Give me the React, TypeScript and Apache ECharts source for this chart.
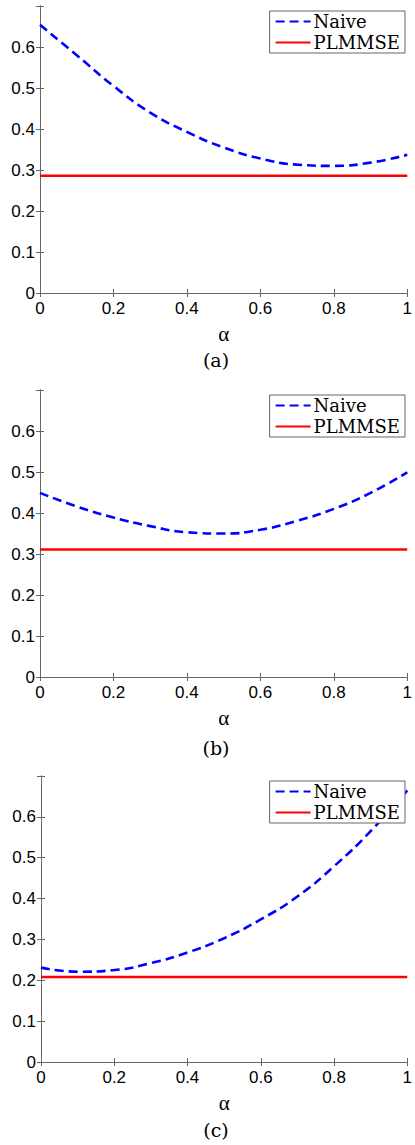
import React, { useEffect, useRef } from "react";
import * as echarts from "echarts";

const alphaValues = [0, 0.1, 0.2, 0.3, 0.4, 0.5, 0.6, 0.7, 0.8, 0.9, 1.0];
const naiveA = [0.654, 0.58, 0.505, 0.44, 0.393, 0.355, 0.328, 0.313, 0.31, 0.318, 0.337];
const naiveB = [0.449, 0.416, 0.389, 0.368, 0.353, 0.35, 0.359, 0.381, 0.41, 0.449, 0.499];
const naiveC = [0.231, 0.221, 0.225, 0.242, 0.268, 0.303, 0.349, 0.405, 0.479, 0.565, 0.665];
const plmmseLevels = [0.286, 0.311, 0.208];
const xTicks = [0, 0.2, 0.4, 0.6, 0.8, 1];
const yTicks = [0, 0.1, 0.2, 0.3, 0.4, 0.5, 0.6];
const panelCaptions = ["(a)", "(b)", "(c)"];
const seriesNames = ["Naive", "PLMMSE"];

const naiveSets = [naiveA, naiveB, naiveC];
const gridTops = [6, 390, 776];
const gridHeights = [287, 287, 286];
const gridLefts = [40, 40, 41];
const captionY = [360, 748, 1130];

const AXIS_COLOR = "#666666";
const SERIF = "'DejaVu Serif', serif";
const TIMES = "'Liberation Serif', serif";
const SANS = "'Liberation Sans', Arial, sans-serif";

export default function App() {
  const ref = useRef<HTMLDivElement>(null);
  useEffect(() => {
    if (!ref.current) return;
    const chart = echarts.init(ref.current, null, { renderer: "svg" });
    const grids: any[] = [];
    const xAxes: any[] = [];
    const yAxes: any[] = [];
    const series: any[] = [];
    const legends: any[] = [];
    const graphics: any[] = [];
    for (let i = 0; i < 3; i++) {
      grids.push({
        left: gridLefts[i],
        top: gridTops[i],
        width: 409 - gridLefts[i],
        height: gridHeights[i],
      });
      const baseX = {
        type: "value",
        gridIndex: i,
        min: xTicks[0],
        max: xTicks[xTicks.length - 1],
        interval: 0.2,
        splitLine: { show: false },
        axisLine: { lineStyle: { color: AXIS_COLOR, width: 1 } },
        axisTick: { inside: true, length: 4, lineStyle: { color: AXIS_COLOR } },
      };
      xAxes.push({
        ...baseX,
        position: "bottom",
        name: "α",
        nameLocation: "middle",
        nameGap: 30,
        nameTextStyle: { fontFamily: TIMES, fontSize: 21, color: "#000", verticalAlign: "top" },
        axisLabel: {
          fontFamily: SANS,
          fontSize: 17,
          color: "#000",
          margin: 7,
          formatter: (v: number) => String(Math.round(v * 10) / 10),
        },
      });
      xAxes.push({ ...baseX, position: "top", axisLabel: { show: false } });
      const baseY = {
        type: "value",
        gridIndex: i,
        min: 0,
        max: 0.7,
        interval: 0.1,
        splitLine: { show: false },
        axisLine: { show: true, lineStyle: { color: AXIS_COLOR, width: 1 } },
        axisTick: { show: true, inside: true, length: 4, lineStyle: { color: AXIS_COLOR } },
      };
      yAxes.push({
        ...baseY,
        position: "left",
        axisLabel: {
          fontFamily: SANS,
          fontSize: 17,
          color: "#000",
          margin: 5,
          formatter: (v: number) => {
            const r = Math.round(v * 10) / 10;
            return yTicks.indexOf(r) >= 0 ? String(r) : "";
          },
        },
      });
      yAxes.push({ ...baseY, position: "right", axisLabel: { show: false } });
      series.push({
        name: seriesNames[0],
        type: "line",
        xAxisIndex: i * 2,
        yAxisIndex: i * 2,
        smooth: true,
        symbol: "none",
        lineStyle: { color: "#0000ff", width: 2.6, type: [9, 5] },
        itemStyle: { color: "#0000ff" },
        data: alphaValues.map((a, k) => [a, naiveSets[i][k]]),
      });
      series.push({
        name: seriesNames[1],
        type: "line",
        xAxisIndex: i * 2,
        yAxisIndex: i * 2,
        symbol: "none",
        lineStyle: { color: "#ff0000", width: 2.4, type: "solid" },
        itemStyle: { color: "#ff0000" },
        data: [alphaValues[0], alphaValues[alphaValues.length - 1]].map((a) => [a, plmmseLevels[i]]),
      });
      legends.push({
        data: seriesNames,
        orient: "vertical",
        right: 10,
        top: gridTops[i] + 5,
        itemWidth: 35,
        itemHeight: 12,
        itemGap: 0,
        padding: [0, 5, 0, 5],
        backgroundColor: "#fff",
        borderColor: AXIS_COLOR,
        borderWidth: 1,
        borderRadius: 0,
        itemStyle: { opacity: 0 },
        textStyle: { fontFamily: SERIF, fontSize: 18, lineHeight: 21, color: "#000", padding: [0, 0, 0, -2] },
      });
      graphics.push({
        type: "text",
        x: 216,
        y: captionY[i],
        style: {
          text: panelCaptions[i],
          font: "19px 'DejaVu Serif'",
          fill: "#000",
          textAlign: "center",
          textVerticalAlign: "middle",
        },
      });
    }
    chart.setOption({
      animation: false,
      grid: grids,
      xAxis: xAxes,
      yAxis: yAxes,
      series,
      legend: legends,
      graphic: graphics,
    });
    return () => chart.dispose();
  }, []);
  return (
    <div
      ref={ref}
      style={{ position: "absolute", left: 0, top: 0, width: 415, height: 1145, background: "#fff" }}
    />
  );
}
